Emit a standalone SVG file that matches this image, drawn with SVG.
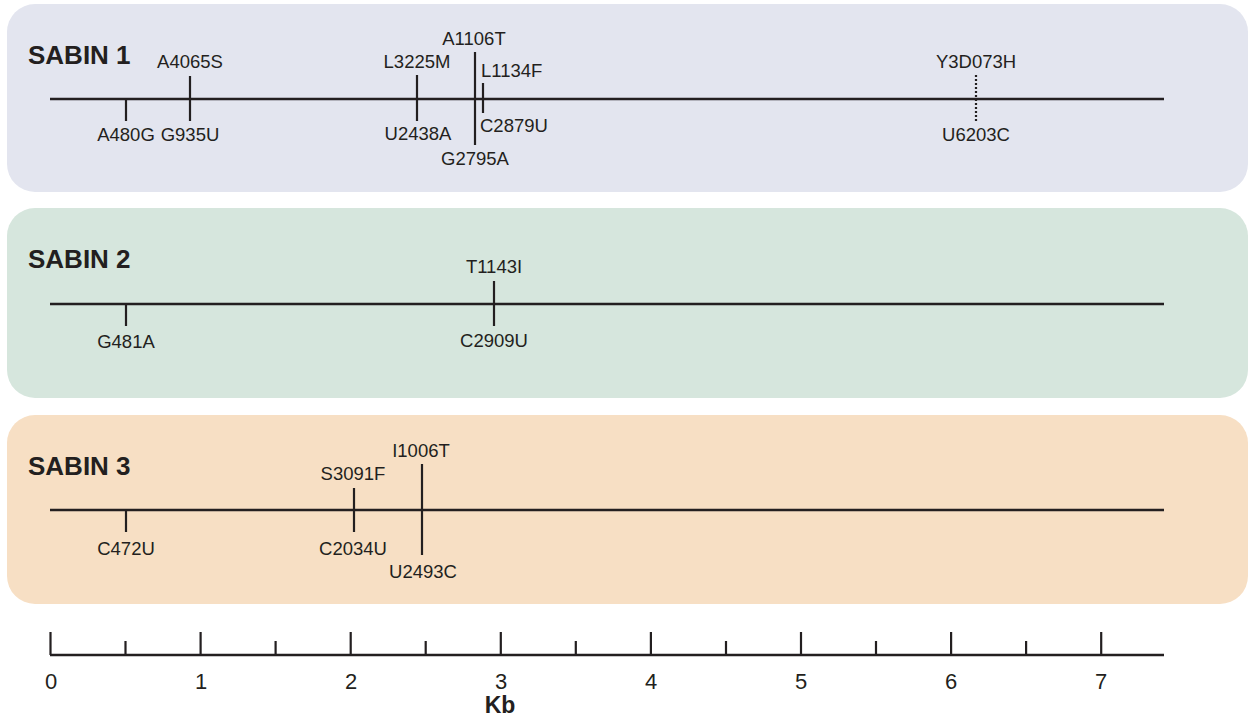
<svg xmlns="http://www.w3.org/2000/svg" width="1250" height="724" viewBox="0 0 1250 724">
<style>
.lab{font-family:"Liberation Sans",Arial,sans-serif;font-size:18.5px;fill:#231f20}
.c{text-anchor:middle}
.title{font-family:"Liberation Sans",Arial,sans-serif;font-size:26px;font-weight:bold;fill:#231f20}
.num{font-family:"Liberation Sans",Arial,sans-serif;font-size:22px;fill:#231f20;text-anchor:middle}
.gl{stroke:#231f20;stroke-width:2.6;fill:none}
.tk{stroke:#231f20;stroke-width:2.2;fill:none}
.dot{stroke:#231f20;stroke-width:2.2;stroke-dasharray:2 2;fill:none}
</style>
<rect width="1250" height="724" fill="#ffffff"/>
<g id="sabin1">
<rect x="7" y="4" width="1241" height="188" rx="28" fill="#e3e5ef"/>
<text class="title" x="28" y="64">SABIN 1</text>
</g>
<g id="sabin2">
<rect x="7" y="208" width="1241" height="190" rx="28" fill="#d6e6dd"/>
<text class="title" x="28" y="268">SABIN 2</text>
</g>
<g id="sabin3">
<rect x="7" y="415" width="1241" height="189" rx="28" fill="#f7dfc4"/>
<text class="title" x="28" y="475">SABIN 3</text>
</g>
<g id="connectors">
<line class="gl" x1="50" y1="99" x2="1164" y2="99"/>
<line class="gl" x1="50" y1="304" x2="1164" y2="304"/>
<line class="gl" x1="50" y1="510" x2="1164" y2="510"/>
<line class="tk" x1="126" y1="99" x2="126" y2="121"/>
<line class="tk" x1="190" y1="76" x2="190" y2="121"/>
<line class="tk" x1="417" y1="75" x2="417" y2="121"/>
<line class="tk" x1="475" y1="52" x2="475" y2="145"/>
<line class="tk" x1="483" y1="83" x2="483" y2="113"/>
<line class="dot" x1="976" y1="75" x2="976" y2="122"/>
<line class="tk" x1="126" y1="304" x2="126" y2="326"/>
<line class="tk" x1="494" y1="281" x2="494" y2="326"/>
<line class="tk" x1="126" y1="510" x2="126" y2="532"/>
<line class="tk" x1="354" y1="488" x2="354" y2="532"/>
<line class="tk" x1="422" y1="464" x2="422" y2="555"/>
</g>
<g id="labels1">
<text class="lab c" x="126" y="141">A480G</text>
<text class="lab c" x="190" y="68">A4065S</text>
<text class="lab c" x="190" y="141">G935U</text>
<text class="lab c" x="417" y="68">L3225M</text>
<text class="lab c" x="418" y="140">U2438A</text>
<text class="lab c" x="474" y="45">A1106T</text>
<text class="lab c" x="475" y="165">G2795A</text>
<text class="lab" x="481" y="77">L1134F</text>
<text class="lab" x="480" y="132">C2879U</text>
<text class="lab c" x="976" y="68">Y3D073H</text>
<text class="lab c" x="976" y="141">U6203C</text>
</g>
<g id="labels2">
<text class="lab c" x="126" y="348">G481A</text>
<text class="lab c" x="494" y="273">T1143I</text>
<text class="lab c" x="494" y="347">C2909U</text>
</g>
<g id="labels3">
<text class="lab c" x="126" y="555">C472U</text>
<text class="lab c" x="353" y="480">S3091F</text>
<text class="lab c" x="353" y="555">C2034U</text>
<text class="lab c" x="421" y="457">I1006T</text>
<text class="lab c" x="423" y="578">U2493C</text>
</g>
<g id="scale">
<line class="gl" x1="50" y1="655" x2="1164" y2="655"/>
<path class="tk" d="M50.5 632V655M200.6 632V655M350.7 632V655M500.8 632V655M650.9 632V655M801 632V655M951.1 632V655M1101.2 632V655M125.5 641V655M275.6 641V655M425.7 641V655M575.8 641V655M726 641V655M876 641V655M1026.1 641V655"/>
<text class="num" x="51" y="689">0</text>
<text class="num" x="201" y="689">1</text>
<text class="num" x="351" y="689">2</text>
<text class="num" x="501" y="689">3</text>
<text class="num" x="651" y="689">4</text>
<text class="num" x="801" y="689">5</text>
<text class="num" x="951" y="689">6</text>
<text class="num" x="1101" y="689">7</text>
<text x="500" y="713" style="font-family:'Liberation Sans',Arial,sans-serif;font-size:23px;font-weight:bold;fill:#231f20;text-anchor:middle">Kb</text>
</g>
</svg>
